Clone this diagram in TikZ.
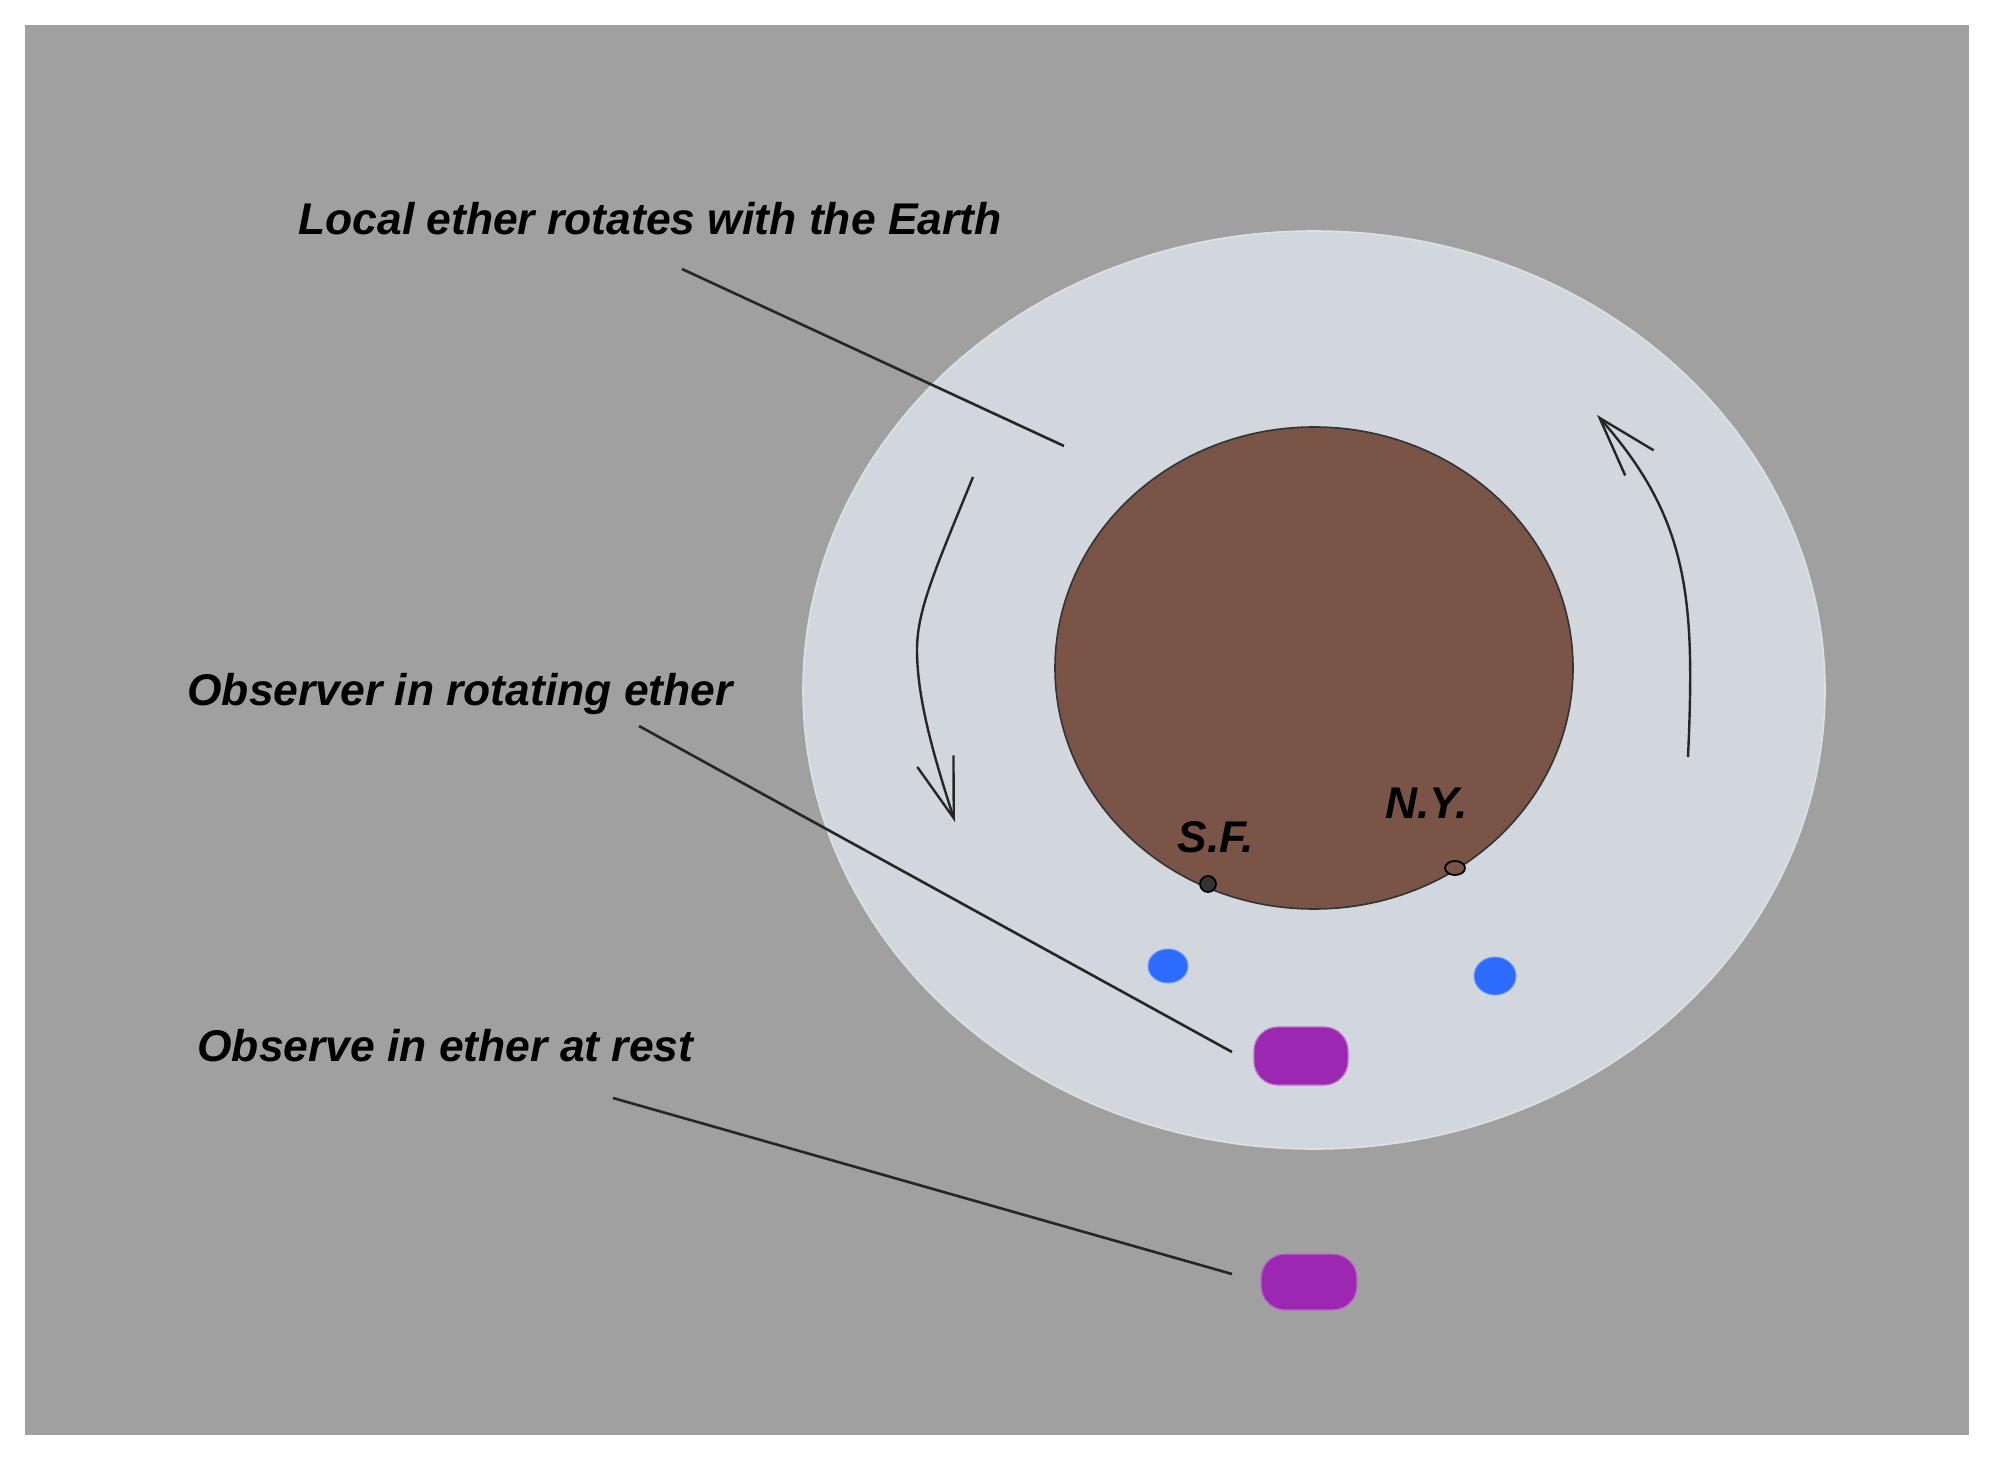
\documentclass[tikz,border=0pt]{standalone}
\usepackage{fontspec}
\setmainfont{Liberation Sans}
\usetikzlibrary{arrows.meta,shapes.geometric}
\definecolor{bggray}{HTML}{A0A0A0}
\definecolor{ether}{HTML}{D1D7DD}
\definecolor{etheredge}{HTML}{DDE1E5}
\definecolor{earth}{HTML}{7A5446}
\definecolor{obspurple}{HTML}{9C27B0}
\definecolor{obsblue}{HTML}{2D6CFF}
\tikzset{
  lbl/.style={font=\fontsize{22.2}{26}\selectfont\bfseries\itshape, text=black, inner sep=0pt, anchor=base west},
  pointer/.style={draw=black!85, line width=1.3pt},
  spin/.style={draw=black!85, line width=1.2pt, -{Straight Barb[length=30pt,width=19pt,line width=1.2pt]}},
  observer/.style={rectangle, rounded corners=12pt, fill=obspurple, draw=obspurple!70!white, line width=0.6pt, inner sep=0pt},
  bluedot/.style={ellipse, fill=obsblue, draw=obsblue!70!white, line width=0.5pt, inner sep=0pt},
  city/.style={ellipse, draw=black, line width=0.9pt, inner sep=0pt}
}
\begin{document}
\begin{tikzpicture}[x=0.5pt,y=-0.5pt]
\useasboundingbox (0,0) rectangle (1991,1460);
% background
\fill[bggray] (25,25) rectangle (1969,1435);
% rotating ether
\node[ellipse, fill=ether, draw=etheredge, line width=0.8pt, minimum width=511pt, minimum height=459pt, inner sep=0pt] (etherzone) at (1314,690) {};
% earth
\node[ellipse, fill=earth, draw=black!80, line width=0.8pt, minimum width=259pt, minimum height=241pt, inner sep=0pt] (earth) at (1314,668) {};
% cities
\node[city, fill=black!80, minimum width=8pt, minimum height=8pt] (sfdot) at (1208,884) {};
\node[city, fill=earth, minimum width=10pt, minimum height=7pt] (nydot) at (1455,868) {};
\node[lbl] (sf) at (1177,852) {S.F.};
\node[lbl] (ny) at (1385,818) {N.Y.};
% blue dots
\node[bluedot, minimum width=20pt, minimum height=17pt] (blueL) at (1168,966) {};
\node[bluedot, minimum width=21pt, minimum height=19pt] (blueR) at (1495,976) {};
% observers
\node[observer, minimum width=47pt, minimum height=29pt] (obsrot) at (1301,1056) {};
\node[observer, minimum width=48pt, minimum height=28pt] (obsrest) at (1309,1282) {};
% labels
\node[lbl] (lbllocal) at (298,235) {Local ether rotates with the Earth};
\node[lbl] (lblrot) at (187,705) {Observer in rotating ether};
\node[lbl] (lblrest) at (197,1061) {Observe in ether at rest};
% pointer lines
\coordinate (p1s) at (682,269);
\coordinate (p1e) at (1064,446);
\coordinate (p2s) at (639,726);
\coordinate (p2e) at (1232,1052);
\coordinate (p3s) at (613,1098);
\coordinate (p3e) at (1232,1274);
\draw[pointer] (p1s) -- (p1e);
\draw[pointer] (p2s) -- (p2e);
\draw[pointer] (p3s) -- (p3e);
% rotation arrows
\coordinate (a1s) at (973,477);
\coordinate (a1m) at (917,650);
\coordinate (a1e) at (955,822);
\coordinate (a2s) at (1688,757);
\coordinate (a2e) at (1597,415);
\draw[spin] (a1s) .. controls (935,570) and (917,610) .. (a1m) .. controls (917,700) and (935,760) .. (a1e);
\draw[spin] (a2s) .. controls (1695,600) and (1690,520) .. (a2e);
\end{tikzpicture}
\end{document}
